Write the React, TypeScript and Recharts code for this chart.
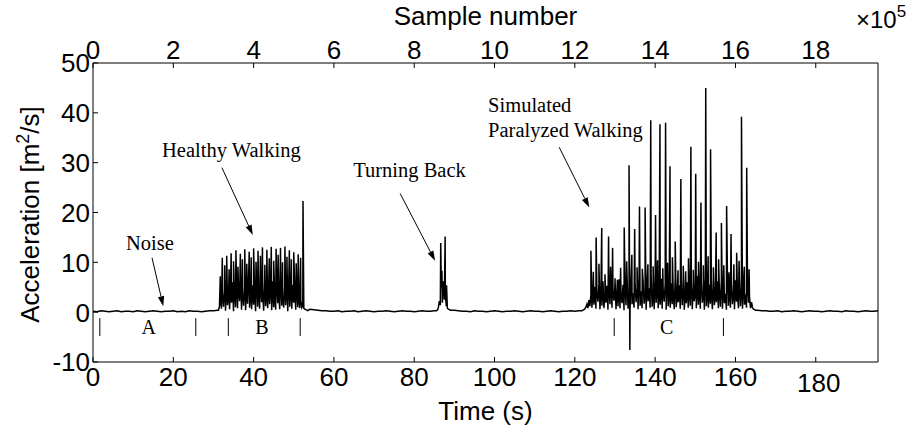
import { Line, LineChart, ReferenceDot, ReferenceLine, XAxis, YAxis } from "recharts";

const SANS = "'Liberation Sans', Arial, sans-serif";
const SERIF = "'Liberation Serif', 'Times New Roman', serif";

const timeTicks = [0, 20, 40, 60, 80, 100, 120, 140, 160, 180];
const sampleTicks = [0, 2, 4, 6, 8, 10, 12, 14, 16, 18];
const accTicks = [-10, 0, 10, 20, 30, 40, 50];
const sampleRate = 10000; // Hz -> 2x10^5 samples = 20 s

// quiet stretches, one reading per second
const quietA = [0.2, 0.1, 0.3, 0.2, 0.1, 0.2, 0.3, 0.1, 0.2, 0.2, 0.1, 0.3, 0.2, 0.1, 0.2, 0.3, 0.2, 0.1, 0.2, 0.2, 0.3, 0.1, 0.2, 0.1, 0.3, 0.2, 0.2, 0.1, 0.2, 0.3, 0.3, 0.4];
const quietB = [0.6, 0.5, 0.4, 0.3, 0.3, 0.2, 0.2, 0.3, 0.1, 0.2, 0.2, 0.3, 0.1, 0.2, 0.3, 0.2, 0.1, 0.2, 0.2, 0.3, 0.2, 0.1, 0.2, 0.3, 0.2, 0.2, 0.1, 0.2, 0.3, 0.2, 0.2, 0.3];
const quietC = [0.4, 0.3, 0.2, 0.2, 0.1, 0.3, 0.2, 0.2, 0.1, 0.2, 0.3, 0.2, 0.1, 0.2, 0.2, 0.3, 0.2, 0.1, 0.2, 0.3, 0.2, 0.2, 0.1, 0.2, 0.3, 0.2, 0.1, 0.2, 0.2, 0.3, 0.2, 0.3];
const quietD = [0.4, 0.3, 0.3, 0.2, 0.2, 0.3, 0.1, 0.2, 0.2, 0.3, 0.2, 0.1, 0.2, 0.3, 0.2, 0.2, 0.1, 0.2, 0.3, 0.2, 0.2, 0.1, 0.3, 0.2, 0.2, 0.1, 0.2, 0.3, 0.2, 0.2, 0.3];

// low-level activity inside each burst, one reading every 0.25 s
const healthyBand = [
  0.4, 1.2, 2.6, 0.7, 3.8, 1.1, 4.5, 0.3, 5.2, 1.4,
  3.1, 0.6, 4.8, 1.9, 6.0, 0.2, 3.5, 1.0, 5.6, 0.8,
  4.1, 2.2, 6.3, 0.5, 3.9, 1.3, 5.1, 0.4, 4.6, 1.7,
  6.8, 0.9, 3.3, 0.6, 5.4, 1.5, 4.3, 0.2, 6.1, 1.1,
  3.7, 0.7, 5.8, 2.0, 4.4, 0.3, 6.5, 1.2, 3.6, 0.8,
  5.0, 1.6, 4.9, 0.4, 6.2, 1.0, 3.4, 0.5, 5.7, 1.8,
  4.0, 0.6, 6.4, 1.3, 3.2, 0.9, 5.3, 1.4, 4.7, 0.2,
  5.9, 1.1, 3.8, 0.7, 5.5, 1.9, 4.2, 0.5, 4.9, 1.0,
  3.1, 0.8, 2.4, 0.9, 1.3, 0.8, 0.6, 0.5, 0.4, 0.3,
];
const turningBand = [0.3, 0.4, 0.9, 2.2, 1.4, 4.8, 1.9, 6.2, 2.5, 3.4, 1.2, 0.8, 0.6, 0.5, 0.4];
const paralyzedBand = [
  0.3, 0.3, 0.4, 0.5, 0.7, 1.0, 1.6, 0.8, 2.4, 1.2,
  3.5, 0.9, 4.2, 1.5, 5.1, 0.7, 3.8, 2.1, 5.6, 0.6,
  4.4, 1.3, 6.2, 0.8, 3.6, 1.9, 5.3, 0.5, 4.7, 1.6,
  6.0, 0.9, 3.9, 2.3, 5.8, 0.6, 4.5, 1.2, 6.6, 0.8,
  3.7, 1.8, 5.5, 0.4, 4.9, 1.4, 7.2, 0.7, 4.1, 0.5,
  6.4, 1.6, 3.8, 0.9, 5.9, 2.0, 4.6, 0.6, 7.0, 1.3,
  4.2, 0.8, 6.3, 1.7, 3.5, 0.5, 5.7, 2.2, 4.8, 0.9,
  7.4, 1.1, 4.0, 0.6, 6.1, 1.9, 5.2, 0.8, 3.9, 1.5,
  6.7, 0.7, 4.4, 2.1, 5.6, 0.5, 7.6, 1.2, 3.7, 0.9,
  5.8, 1.6, 4.3, 0.6, 6.9, 1.0, 3.6, 2.0, 5.4, 0.7,
  4.9, 1.4, 7.1, 0.5, 3.8, 1.8, 6.0, 0.9, 4.6, 1.3,
  6.5, 0.6, 5.0, 2.2, 3.9, 0.8, 7.3, 1.5, 4.5, 0.7,
  5.9, 1.9, 4.1, 0.5, 6.8, 1.2, 3.6, 0.9, 5.5, 1.7,
  4.7, 0.6, 7.0, 1.4, 3.9, 2.0, 6.2, 0.8, 4.4, 1.1,
  6.6, 0.7, 5.1, 1.8, 3.7, 0.5, 7.5, 1.3, 4.8, 0.9,
  5.7, 1.6, 4.2, 0.6, 6.4, 2.1, 3.8, 0.8, 6.9, 1.2,
  4.5, 0.7, 5.8, 1.5, 3.6, 0.9, 5.2, 1.9, 3.1, 0.8,
  2.0, 0.9, 0.6, 0.5, 0.4,
];

// single spikes: [time (s), acceleration]
const healthySpikes: [number, number][] = [
  [31.7, 7.2], [32.2, 10.9], [32.8, 9.4], [33.3, 11.3], [33.9, 8.6], [34.4, 11.8], [35.0, 10.2], [35.6, 12.4],
  [36.1, 9.1], [36.7, 11.7], [37.2, 10.6], [37.8, 12.6], [38.3, 9.7], [38.9, 12.1], [39.4, 11.0], [40.0, 12.8],
  [40.6, 10.1], [41.1, 12.3], [41.7, 11.3], [42.2, 13.0], [42.8, 9.5], [43.3, 12.5], [43.9, 10.8], [44.4, 13.1],
  [45.0, 10.3], [45.6, 12.7], [46.1, 11.5], [46.7, 12.9], [47.2, 10.0], [47.8, 13.2], [48.3, 11.1], [48.9, 12.4],
  [49.4, 10.6], [50.0, 12.0], [50.6, 9.8], [51.1, 11.6], [51.7, 10.9], [52.3, 22.3],
];
const turningSpikes: [number, number][] = [[86.6, 13.9], [86.9, 8.3], [87.7, 15.2], [88.05, 5.4]];
const paralyzedSpikes: [number, number][] = [
  [124.0, 12.3], [125.3, 15.0], [126.7, 16.9], [128.4, 15.2], [129.4, 12.9], [130.6, 6.5], [132.3, 17.0],
  [133.5, 29.5], [134.9, 16.7], [136.1, 21.2], [137.5, 21.0], [138.9, 38.5], [140.1, 19.5], [141.2, 37.7],
  [142.6, 38.0], [143.7, 29.3], [145.0, 14.2], [146.4, 26.7], [148.9, 33.2], [150.1, 27.8], [151.4, 22.0],
  [152.6, 45.0], [153.8, 32.7], [155.2, 16.0], [156.5, 17.9], [157.8, 21.3], [158.9, 15.7], [160.3, 11.9],
  [161.5, 39.2], [162.8, 29.0],
];
const paralyzedMinor: [number, number][] = [
  [124.6, 8.1], [126.0, 9.7], [127.5, 7.6], [128.9, 9.1], [130.0, 6.8], [131.4, 8.9], [132.9, 10.2], [134.2, 11.5],
  [135.5, 9.0], [136.8, 8.7], [138.2, 9.6], [139.5, 9.2], [140.6, 10.4], [141.9, 8.8], [143.1, 9.9], [144.3, 11.0],
  [145.7, 8.4], [147.0, 9.3], [147.6, 8.2], [148.3, 10.8], [149.5, 8.5], [150.8, 10.1], [152.0, 9.4], [153.2, 11.2],
  [154.5, 9.0], [155.8, 10.6], [157.1, 9.4], [158.4, 8.0], [159.6, 9.6], [160.9, 10.3], [162.2, 9.1], [163.4, 8.6],
];
const dips: [number, number][] = [[133.7, -7.6]];

const segments = [
  { from: 0, step: 1, values: quietA },
  { from: 31.25, step: 0.25, values: healthyBand },
  { from: 54, step: 1, values: quietB },
  { from: 85.5, step: 0.25, values: turningBand },
  { from: 90, step: 1, values: quietC },
  { from: 121.5, step: 0.25, values: paralyzedBand },
  { from: 165.5, step: 1, values: quietD },
];

const points: [number, number][] = [];
segments.forEach(({ from, step, values }) => values.forEach((v, i) => points.push([from + i * step, v])));
[...healthySpikes, ...turningSpikes, ...paralyzedSpikes, ...paralyzedMinor, ...dips].forEach((p) => points.push(p));
points.sort((a, b) => a[0] - b[0]);
const rows = points.map(([t, v]) => ({ t, s: (t * sampleRate) / 1e5, v }));

// annotations, placed in data units
const notes = [
  { text: "Noise", t: 8.2, v: 12.5 },
  { text: "Healthy Walking", t: 17.2, v: 31.1 },
  { text: "Turning Back", t: 64.8, v: 27.1 },
  { text: "Simulated", t: 98.4, v: 40.1 },
  { text: "Paralyzed Walking", t: 98.4, v: 35.1 },
];
const arrows = [
  { from: [14.7, 10.9], to: [17.5, 1.2] },
  { from: [32.1, 29.0], to: [39.8, 15.5] },
  { from: [76.5, 23.8], to: [85.2, 10.3] },
  { from: [116.1, 33.1], to: [123.6, 21.0] },
];
const phaseMarks = [1.7, 25.6, 33.7, 51.6, 129.8, 157.0];
const phaseLabels = [
  { text: "A", t: 13.9 },
  { text: "B", t: 42.1 },
  { text: "C", t: 142.9 },
];

const Arrow = (p: any) => {
  const { x1, y1, x2, y2 } = p;
  const a = Math.atan2(y2 - y1, x2 - x1);
  const len = 10;
  const hw = 3.2;
  const bx = x2 - len * Math.cos(a);
  const by = y2 - len * Math.sin(a);
  const nx = -Math.sin(a) * hw;
  const ny = Math.cos(a) * hw;
  return (
    <g>
      <line x1={x1} y1={y1} x2={bx} y2={by} stroke="#000" strokeWidth={1} />
      <polygon points={`${x2},${y2} ${bx + nx},${by + ny} ${bx - nx},${by - ny}`} fill="#000" />
    </g>
  );
};

const BottomTick = ({ x, y, payload }: any) => {
  // the 180 label sits a bit lower and to the right in the original
  const odd = payload.value === 180;
  return (
    <text x={x + (odd ? 3 : 0)} y={y + (odd ? 6 : 0)} dy="0.71em" textAnchor="middle" fontSize={26} fontFamily={SANS} fill="#000">
      {payload.value}
    </text>
  );
};

const TopTick = ({ x, y, payload }: any) => (
  <text x={x} y={y} textAnchor="middle" fontSize={26} fontFamily={SANS} fill="#000">
    {payload.value}
  </text>
);

const LeftTick = ({ x, y, payload }: any) => (
  <text x={x} y={y} dy="0.36em" textAnchor="end" fontSize={26} fontFamily={SANS} fill="#000">
    {payload.value}
  </text>
);

export default function App() {
  return (
    <div style={{ position: "absolute", left: 0, top: 0, background: "#fff" }}>
      <LineChart width={920} height={427} data={rows} margin={{ top: 0, right: 0, bottom: 0, left: 0 }}>
        <XAxis
          xAxisId="b"
          dataKey="t"
          type="number"
          domain={[0, 195.5]}
          ticks={timeTicks}
          interval={0}
          height={65}
          tickSize={-5}
          tickMargin={11}
          stroke="#000"
          tick={<BottomTick />}
          label={{
            content: ({ viewBox }: any) => (
              <text x={viewBox.x + viewBox.width / 2} y={viewBox.y + 58} textAnchor="middle" fontSize={26} fontFamily={SANS}>
                Time (s)
              </text>
            ),
          }}
        />
        <XAxis
          xAxisId="top"
          orientation="top"
          dataKey="s"
          type="number"
          domain={[0, 19.55]}
          ticks={sampleTicks}
          interval={0}
          height={63}
          tickSize={-5}
          tickMargin={9}
          stroke="#000"
          tick={<TopTick />}
          label={{
            content: ({ viewBox }: any) => (
              <g fontFamily={SANS} fill="#000">
                <text x={viewBox.x + viewBox.width / 2} y={viewBox.y + 25} textAnchor="middle" fontSize={26}>
                  Sample number
                </text>
                <text x={viewBox.x + viewBox.width - 22} y={viewBox.y + 28} fontSize={24}>
                  ×10
                  <tspan dy={-11} fontSize={17}>5</tspan>
                </text>
              </g>
            ),
          }}
        />
        <YAxis
          yAxisId="l"
          type="number"
          domain={[-10, 50]}
          ticks={accTicks}
          interval={0}
          width={93}
          tickSize={-5}
          tickMargin={8}
          stroke="#000"
          tick={<LeftTick />}
          label={{
            content: ({ viewBox }: any) => {
              const cx = viewBox.x + 39;
              const cy = viewBox.y + viewBox.height / 2 + 2;
              return (
                <text x={cx} y={cy} transform={`rotate(-90, ${cx}, ${cy})`} textAnchor="middle" fontSize={26} fontFamily={SANS}>
                  Acceleration [m
                  <tspan dy={-10} fontSize={18}>2</tspan>
                  <tspan dy={10}>/s]</tspan>
                </text>
              );
            },
          }}
        />
        <YAxis
          yAxisId="r"
          orientation="right"
          type="number"
          domain={[-10, 50]}
          ticks={accTicks}
          interval={0}
          width={42}
          tickSize={-5}
          tick={false}
          stroke="#000"
        />
        <Line xAxisId="top" yAxisId="r" dataKey="v" stroke="none" dot={false} activeDot={false} isAnimationActive={false} />
        <Line xAxisId="b" yAxisId="l" dataKey="v" stroke="#000" strokeWidth={1.5} dot={false} activeDot={false} isAnimationActive={false} />
        {phaseMarks.map((t) => (
          <ReferenceLine key={t} xAxisId="b" yAxisId="l" segment={[{ x: t, y: -1.2 }, { x: t, y: -4.8 }]} stroke="#000" strokeWidth={1} />
        ))}
        {phaseLabels.map((p) => (
          <ReferenceDot
            key={p.text}
            xAxisId="b"
            yAxisId="l"
            x={p.t}
            y={-4.4}
            r={0}
            shape={(d: any) => (
              <text x={d.cx} y={d.cy} textAnchor="middle" fontSize={20} fontFamily={SERIF} fill="#000">
                {p.text}
              </text>
            )}
          />
        ))}
        {arrows.map((a, i) => (
          <ReferenceLine
            key={i}
            xAxisId="b"
            yAxisId="l"
            segment={[{ x: a.from[0], y: a.from[1] }, { x: a.to[0], y: a.to[1] }]}
            shape={<Arrow />}
          />
        ))}
        {notes.map((n) => (
          <ReferenceDot
            key={n.text}
            xAxisId="b"
            yAxisId="l"
            x={n.t}
            y={n.v}
            r={0}
            shape={(d: any) => (
              <text x={d.cx} y={d.cy} fontSize={20.5} fontFamily={SERIF} fill="#000">
                {n.text}
              </text>
            )}
          />
        ))}
      </LineChart>
    </div>
  );
}
